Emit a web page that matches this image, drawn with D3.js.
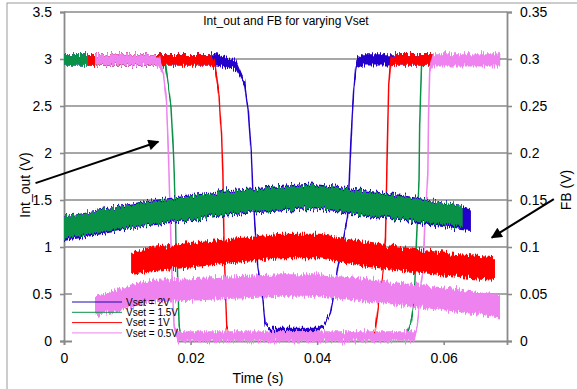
<!DOCTYPE html>
<html>
<head>
<meta charset="utf-8">
<script src="https://cdn.jsdelivr.net/npm/d3@7"></script>
<style>
  body { margin: 0; background: #fff; }
  svg text { font-family: "Liberation Sans", Arial, sans-serif; fill: #000; }
</style>
</head>
<body>
<div id="chart"></div>
<script>
// series names, in legend order
var seriesNames = ["Vset = 2V", "Vset = 1.5V", "Vset = 1V", "Vset = 0.5V"];

// Int_out traces: [time (s), volts, noise half-width (V)]
var intBlue = [[0,2.99,.06],[0.0242,2.99,.06],[0.0272,2.93,.05],[0.0285,2.75,.02],[0.0291,2.45,0],[0.0296,2.0,0],
  [0.0299,1.5,0],[0.0306,0.8,0],[0.0314,0.45,0],[0.0318,0.18,0],[0.0326,0.12,.02],[0.0402,0.12,.02],[0.0412,0.17,.01],
  [0.0421,0.3,0],[0.0428,0.55,0],[0.0432,0.76,0],[0.0448,1.32,0],[0.0451,1.75,0],[0.0454,2.2,0],[0.0458,2.7,.02],
  [0.0462,2.95,.05],[0.0472,2.99,.06],[0.0689,2.99,.06]];
var intGreen = [[0,2.99,.06],[0.0152,2.99,.06],[0.016,2.95,.04],[0.0165,2.7,.01],[0.0169,2.5,0],[0.0173,2.0,0],
  [0.0176,1.4,0],[0.0177,1.0,0],[0.0179,0.8,0],[0.0182,0.15,0],[0.0185,0.05,.02],[0.0532,0.05,.02],[0.0543,0.1,0],
  [0.0548,0.2,0],[0.0553,0.4,0],[0.0557,1.07,0],[0.0561,1.7,0],[0.0562,2.3,0],[0.0565,2.95,.03],[0.0572,2.99,.06],
  [0.0689,2.99,.06]];
var intRed = [[0.0038,2.99,.06],[0.0231,2.99,.06],[0.0239,2.93,.04],[0.0245,2.6,.01],[0.0249,2.2,0],[0.0251,1.8,0],
  [0.0253,1.0,0],[0.0257,0.15,0],[0.026,0.06,.02],[0.0485,0.06,.02],[0.0492,0.12,0],[0.0497,0.4,0],[0.0504,0.72,0],
  [0.0508,1.1,0],[0.0511,2.1,0],[0.0513,2.7,.02],[0.0516,2.97,.05],[0.0524,2.99,.06],[0.0689,2.99,.06]];
var intPink = [[0.0049,2.99,.06],[0.0144,2.99,.06],[0.0152,2.95,.05],[0.0157,2.85,.02],[0.0162,2.55,0],[0.0165,2.0,0],
  [0.0168,1.3,0],[0.0171,0.6,0],[0.0174,0.15,.02],[0.0179,0.05,.055],[0.0554,0.05,.055],[0.0558,0.15,.02],
  [0.0561,0.35,0],[0.0564,0.6,0],[0.0567,0.72,0],[0.057,1.2,0],[0.0575,1.8,0],[0.0576,2.4,0],[0.0578,2.9,.03],
  [0.0583,2.99,.07],[0.0689,2.99,.07]];

// FB traces: [time (s), volts, noise half-width (V)]
var fbBlue = [[0,0.120,.0135],[0.0125,0.135,.0135],[0.0258,0.147,.0135],[0.039,0.154,.0135],[0.0532,0.142,.0135],
  [0.0627,0.131,.013],[0.0643,0.129,.012]];
var fbGreen = [[0,0.121,.012],[0.0125,0.135,.012],[0.0258,0.147,.012],[0.039,0.154,.012],[0.0532,0.142,.012],
  [0.063,0.132,.011]];
var fbRed = [[0.0106,0.082,.012],[0.0136,0.087,.013],[0.0342,0.101,.013],[0.0405,0.101,.013],[0.0477,0.092,.013],
  [0.0611,0.081,.012],[0.0681,0.077,.012]];
var fbPink = [[0.0049,0.037,.011],[0.0136,0.053,.012],[0.0342,0.059,.012],[0.0405,0.059,.012],[0.0477,0.054,.012],
  [0.0611,0.044,.012],[0.0689,0.037,.012]];

// axis ticks
var timeTicks = [0, 0.02, 0.04, 0.06];
var timeTickLabels = ["0", "0.02", "0.04", "0.06"];
var intTicks = [0, 0.5, 1, 1.5, 2, 2.5, 3, 3.5];
var intTickLabels = ["0", "0.5", "1", "1.5", "2", "2.5", "3", "3.5"];
var fbTicks = [0, 0.05, 0.1, 0.15, 0.2, 0.25, 0.3, 0.35];
var fbTickLabels = ["0", "0.05", "0.1", "0.15", "0.2", "0.25", "0.3", "0.35"];

var colors = ["#2400cc", "#0a9148", "#ff0000", "#ee82ee"];
var intData = [intBlue, intGreen, intRed, intPink];
var fbData = [fbBlue, fbGreen, fbRed, fbPink];

var width = 577, height = 389;
var svg = d3.select("#chart").append("svg")
  .attr("width", width)
  .attr("height", height);

var x = d3.scaleLinear().domain([0, 0.07]).range([64, 507]);
var yL = d3.scaleLinear().domain([0, 3.5]).range([341, 12]);
var yR = d3.scaleLinear().domain([0, 0.35]).range([341, 12]);

var defs = svg.append("defs");
var filt = defs.append("filter").attr("id", "noise")
  .attr("x", "-2%").attr("y", "-30%").attr("width", "104%").attr("height", "160%")
  .attr("color-interpolation-filters", "sRGB");
filt.append("feTurbulence").attr("type", "fractalNoise").attr("baseFrequency", "0.9 0.03")
  .attr("numOctaves", 2).attr("seed", 4).attr("result", "t");
filt.append("feColorMatrix").attr("in", "t").attr("type", "matrix")
  .attr("values", "0 0 0 0 0.5  0 1 0 0 0  0 0 1 0 0  0 0 0 0 1").attr("result", "m");
filt.append("feDisplacementMap").attr("in", "SourceGraphic").attr("in2", "m")
  .attr("scale", 11).attr("xChannelSelector", "R").attr("yChannelSelector", "G");

defs.append("marker").attr("id", "head")
  .attr("viewBox", "0 0 10 10").attr("refX", 9).attr("refY", 5)
  .attr("markerUnits", "userSpaceOnUse").attr("markerWidth", 15).attr("markerHeight", 11)
  .attr("orient", "auto")
  .append("path").attr("d", "M0,0L10,5L0,10z").attr("fill", "#000");

// outer frame
svg.append("rect")
  .attr("x", 7).attr("y", 3).attr("width", 700).attr("height", 500)
  .attr("fill", "none").attr("stroke", "#9a9a9a").attr("stroke-width", 1);

// gridlines
svg.append("g").selectAll("line")
  .data(intTicks.slice(1))
  .enter().append("line")
  .attr("x1", x(0)).attr("x2", x(0.07))
  .attr("y1", function(d) { return yL(d); })
  .attr("y2", function(d) { return yL(d); })
  .attr("stroke", "#8a8a8a").attr("stroke-width", 1.6);

// axes
var axisLeft = svg.append("g").attr("transform", "translate(" + x(0) + ",0)")
  .call(d3.axisLeft(yL).tickValues(intTicks).tickSize(4).tickPadding(8)
    .tickFormat(function(d, i) { return intTickLabels[i]; }));
var axisRight = svg.append("g").attr("transform", "translate(" + x(0.07) + ",0)")
  .call(d3.axisRight(yR).tickValues(fbTicks).tickSize(5).tickPadding(8)
    .tickFormat(function(d, i) { return fbTickLabels[i]; }));
var axisBottom = svg.append("g").attr("transform", "translate(0," + yL(0) + ")")
  .call(d3.axisBottom(x).tickValues(timeTicks).tickSize(4).tickPadding(8)
    .tickFormat(function(d, i) { return timeTickLabels[i]; }));
[axisLeft, axisRight, axisBottom].forEach(function(a) {
  a.select(".domain").attr("stroke", "#8a8a8a").attr("stroke-width", 1.8);
  a.selectAll(".tick line").attr("stroke", "#8a8a8a").attr("stroke-width", 1.6);
  a.selectAll("text").attr("font-size", 14).attr("font-family", "Liberation Sans, Arial, sans-serif");
});

// legend background box
svg.append("rect")
  .attr("x", 72).attr("y", 291).attr("width", 106).attr("height", 53)
  .attr("fill", "#fff");

var area = function(ys) {
  return d3.area()
    .x(function(d) { return x(d[0]); })
    .y0(function(d) { return ys(d[1] - d[2]); })
    .y1(function(d) { return ys(d[1] + d[2]); });
};
var line = function(ys) {
  return d3.line()
    .x(function(d) { return x(d[0]); })
    .y(function(d) { return ys(d[1]); });
};

// Int_out traces
var gInt = svg.append("g").attr("filter", "url(#noise)");
intData.forEach(function(pts, i) {
  gInt.append("path").attr("d", area(yL)(pts)).attr("fill", colors[i]);
  gInt.append("path").attr("d", line(yL)(pts))
    .attr("fill", "none").attr("stroke", colors[i]).attr("stroke-width", 1.5);
});

// FB traces
var gFb = svg.append("g").attr("filter", "url(#noise)");
fbData.forEach(function(pts, i) {
  gFb.append("path").attr("d", area(yR)(pts)).attr("fill", colors[i]);
});

// legend
var leg = svg.append("g");
seriesNames.forEach(function(name, i) {
  var ly = 302 + i * 10.3;
  leg.append("line").attr("x1", 72).attr("x2", 122).attr("y1", ly).attr("y2", ly)
    .attr("stroke", i == 0 ? "#1a0ab0" : colors[i]).attr("stroke-width", 1);
  leg.append("text").attr("x", 126).attr("y", ly + 3.6).attr("font-size", 10).text(name);
});

// arrows
svg.append("line")
  .attr("x1", x(-0.0045)).attr("y1", yL(1.68))
  .attr("x2", x(0.0149)).attr("y2", yL(2.12))
  .attr("stroke", "#000").attr("stroke-width", 2).attr("marker-end", "url(#head)");
svg.append("line")
  .attr("x1", x(0.0774)).attr("y1", yR(0.151))
  .attr("x2", x(0.0676)).attr("y2", yR(0.11))
  .attr("stroke", "#000").attr("stroke-width", 2).attr("marker-end", "url(#head)");

// titles
svg.append("text").attr("x", 286).attr("y", 25).attr("text-anchor", "middle")
  .attr("font-size", 12).text("Int_out and FB for varying Vset");
svg.append("text").attr("x", 258).attr("y", 383).attr("text-anchor", "middle")
  .attr("font-size", 14).text("Time (s)");
svg.append("text").attr("transform", "translate(30,185) rotate(-90)")
  .attr("text-anchor", "middle").attr("font-size", 14).text("Int_out (V)");
svg.append("text").attr("transform", "translate(571,190) rotate(-90)")
  .attr("text-anchor", "middle").attr("font-size", 14).text("FB (V)");
</script>
</body>
</html>
